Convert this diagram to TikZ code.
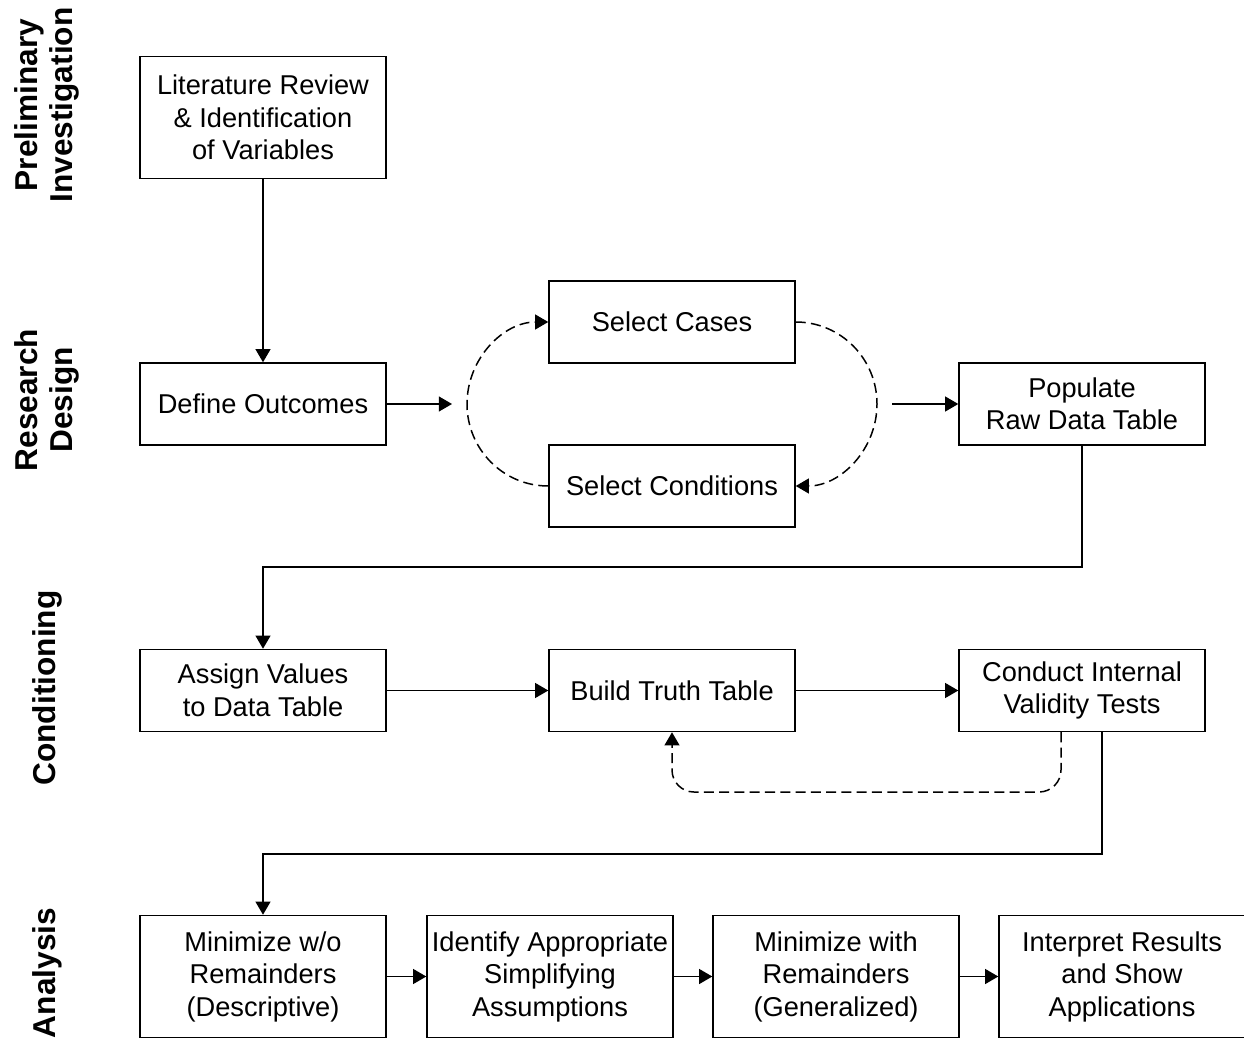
\documentclass[tikz,border=0pt]{standalone}
\usepackage{fontspec}
\setmainfont{Liberation Sans}
\usetikzlibrary{arrows.meta, calc, positioning}

\begin{document}
\begin{tikzpicture}[x=0.02cm, y=-0.02cm,
        box/.style={draw, line width=0.85pt, align=center, inner sep=0pt,
                    minimum width=4.92cm, minimum height=1.64cm,
                    font=\fontsize{15.5}{18.5}\selectfont},
        tallbox/.style={box, minimum height=2.44cm},
        phase/.style={rotate=90, align=center, font=\fontsize{18}{19.5}\selectfont\bfseries},
        arr/.style={-{Triangle[length=7.5pt, width=8.5pt]}, line width=0.85pt},
        dasharr/.style={arr, dash pattern=on 5.7pt off 3pt}
      ]
      \useasboundingbox (0,0) rectangle (1244,1040);

      % Phasen links
      \node[phase] (pPre)  at (47,105) {Preliminary\\Investigation};
      \node[phase] (pDes)  at (47,400) {Research\\Design};
      \node[phase] (pCon)  at (47,688) {Conditioning};
      \node[phase] (pAna)  at (47,973) {Analysis};

      % Kaesten
      \node[tallbox] (lit)    at (263,117.5) {Literature Review\\\& Identification\\of Variables};
      \node[box]     (def)    at (263,404)   {Define Outcomes};
      \node[box]     (cases)  at (672,322)   {Select Cases};
      \node[box]     (conds)  at (672,486)   {Select Conditions};
      \node[box]     (pop)    at (1082,404)  {Populate\\Raw Data Table};
      \node[box]     (assign) at (263,690.5) {Assign Values\\to Data Table};
      \node[box]     (truth)  at (672,690.5) {Build Truth Table};
      \node[box]     (valid)  at (1082,690.5){Conduct Internal\\Validity Tests};
      \node[tallbox] (minA)   at (263,976.5) {Minimize w/o\\Remainders\\(Descriptive)};
      \node[tallbox] (ident)  at (550,976.5) {Identify Appropriate\\Simplifying\\Assumptions};
      \node[tallbox] (minB)   at (836,976.5) {Minimize with\\Remainders\\(Generalized)};
      \node[tallbox] (interp) at (1122,976.5){Interpret Results\\and Show\\Applications};

      % Hilfspunkte
      \coordinate (loopIn)  at (452,404);
      \coordinate (loopL)   at (467,404);
      \coordinate (loopR)   at (877,404);
      \coordinate (loopOut) at (892,404);
      \coordinate (jogA)    at (263,567);
      \coordinate (jogB)    at (263,854);
      \coordinate (fb)      at (1061,792);

      % Pfeile
      \draw[arr] (lit) -- (def);
      \draw[arr] (def) -- (loopIn);
      \draw[dasharr] (conds.west) to[out=180, in=-90] (loopL) to[out=90, in=180] (cases.west);
      \draw[dasharr] (cases.east) to[out=0, in=90] (loopR) to[out=-90, in=0] (conds.east);
      \draw[arr] (loopOut) -- (pop);
      \draw[arr] (pop.south) |- (jogA) -- (assign.north);
      \foreach \a/\b in {assign/truth, truth/valid, minA/ident, ident/minB, minB/interp} {
        \draw[arr] (\a) -- (\b);
      }
      \draw[dasharr, rounded corners=0.44cm] (valid.south -| fb) -- (fb) -| (truth.south);
      \draw[arr] ([xshift=0.4cm]valid.south) |- (jogB) -- (minA.north);
    \end{tikzpicture}
\end{document}
